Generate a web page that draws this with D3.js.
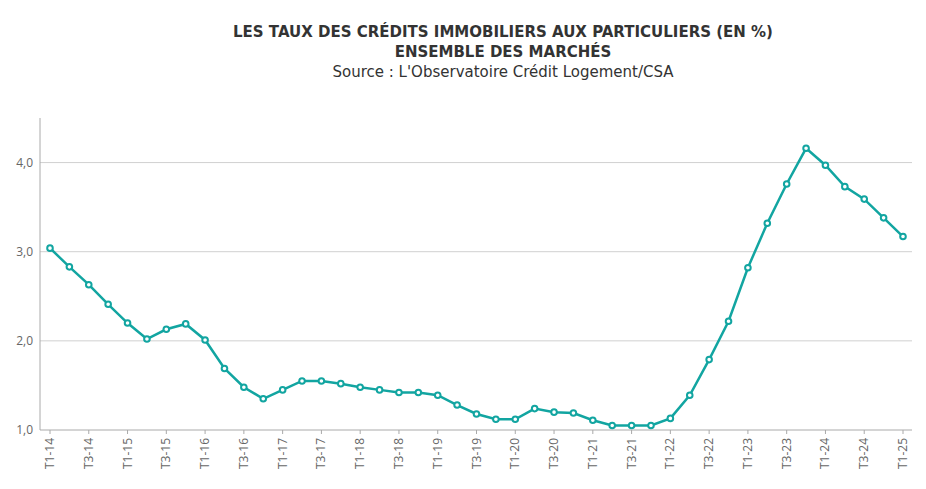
<!DOCTYPE html>
<html><head><meta charset="utf-8">
<script src="https://cdn.jsdelivr.net/npm/d3@7"></script>
<style>body{margin:0;background:#fff;font-family:"Open Sans",sans-serif}</style>
</head><body><svg id="c" width="926" height="489"></svg>
<script>
const quarters = [];
for (let y = 14; y <= 25; y++) for (let q = 1; q <= 4; q++) { if (y === 25 && q > 1) break; quarters.push("T" + q + "-" + y); }
const rates = [3.04,2.83,2.63,2.41,2.20,2.02,2.13,2.19,2.01,1.69,1.48,1.35,1.45,1.55,1.55,1.52,1.48,1.45,1.42,1.42,1.39,1.28,1.18,1.12,1.12,1.24,1.20,1.19,1.11,1.05,1.05,1.05,1.13,1.39,1.79,2.22,2.82,3.32,3.76,4.16,3.97,3.73,3.59,3.38,3.17];
const yTicks = [1,2,3,4];
const titleLines = ["LES TAUX DES CRÉDITS IMMOBILIERS AUX PARTICULIERS (EN %)","ENSEMBLE DES MARCHÉS"];
const sourceText = "Source : L'Observatoire Crédit Logement/CSA";

const svg = d3.select("#c");
const x = d3.scalePoint().domain(quarters).range([50, 903]);
const y = d3.scaleLinear().domain([1, 4.5]).range([430, 118]);

svg.selectAll(".t").data(titleLines).enter().append("text")
  .attr("x", 503).attr("y", (d,i)=>37+i*20).attr("text-anchor","middle")
  .attr("font-family","DejaVu Sans").attr("font-weight","bold").attr("font-size",15).attr("fill","#333").text(d=>d);
svg.append("text").attr("x",503).attr("y",77).attr("text-anchor","middle")
  .attr("font-family","DejaVu Sans").attr("font-size",15).attr("fill","#333").text(sourceText);

svg.selectAll(".g").data(yTicks.filter(d=>d>1)).enter().append("line")
  .attr("x1",40).attr("x2",912).attr("y1",d=>y(d)).attr("y2",d=>y(d))
  .attr("stroke","#d0d0d0");
svg.append("line").attr("x1",40).attr("x2",912).attr("y1",430).attr("y2",430).attr("stroke","#aaa");
svg.append("line").attr("x1",40).attr("x2",40).attr("y1",118).attr("y2",430).attr("stroke","#aaa");
svg.selectAll(".yl").data(yTicks).enter().append("text")
  .attr("x",33).attr("y",d=>y(d)+4).attr("text-anchor","end").attr("font-size",12).attr("fill","#666")
  .text(d=>d3.format(".1f")(d).replace(".",","));
svg.selectAll(".xl").data(quarters.filter((d,i)=>i%2===0)).enter().append("text")
  .attr("transform",d=>`translate(${x(d)+4},${438}) rotate(-90)`).attr("text-anchor","end")
  .attr("font-size",12).attr("fill","#666").text(d=>d);
svg.selectAll(".xt").data(quarters.filter((d,i)=>i%2===0)).enter().append("line")
  .attr("x1",d=>x(d)).attr("x2",d=>x(d)).attr("y1",430).attr("y2",434).attr("stroke","#aaa");

const line = d3.line().x((d,i)=>x(quarters[i])).y(d=>y(d));
svg.append("path").datum(rates).attr("d",line).attr("fill","none").attr("stroke","#12a5a1").attr("stroke-width",2.5);
svg.selectAll(".p").data(rates).enter().append("circle")
  .attr("cx",(d,i)=>x(quarters[i])).attr("cy",d=>y(d)).attr("r",2.8)
  .attr("fill","#fff").attr("stroke","#12a5a1").attr("stroke-width",2);
</script></body></html>
